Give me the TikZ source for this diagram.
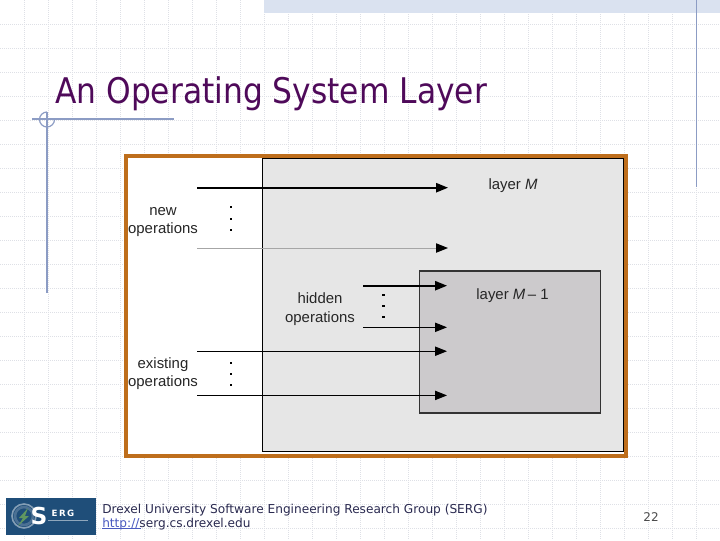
\documentclass[tikz,border=0pt]{standalone}
\usepackage{fontspec}
\usetikzlibrary{arrows.meta}
\setmainfont{DejaVu Sans}
\newfontfamily\labelfont{Liberation Sans}
\newfontfamily\titlefont[FakeStretch=0.886]{DejaVu Sans}
\newfontfamily\footfont[FakeStretch=0.99]{DejaVu Sans}
\definecolor{titlec}{HTML}{4F0A5A}
\definecolor{framec}{HTML}{BE6E1C}
\definecolor{outerc}{HTML}{E6E6E6}
\definecolor{innerc}{HTML}{CCCACC}
\definecolor{rulec}{HTML}{8C9CC4}
\definecolor{gridc}{HTML}{DEE0E6}
\definecolor{stripc}{HTML}{DAE2F0}
\definecolor{logoc}{HTML}{1F4E79}
\definecolor{footc}{HTML}{2A2A50}
\definecolor{linkc}{HTML}{4A5AC0}
\tikzset{
  x=0.75pt,y=-0.75pt,
  gridline/.style={gridc,line width=0.5pt,densely dotted},
  rulel/.style={rulec,line width=0.9pt},
  lab/.style={font=\labelfont\fontsize{11.2}{14}\selectfont,align=center,text=black!85,inner sep=0pt},
  boxn/.style={anchor=north west,inner sep=0pt,outer sep=0pt},
  headt/.style={-{Triangle[length=9pt,width=7pt,black]}},
  op/.style={line width=0.75pt,headt},
  opthick/.style={line width=1.2pt,headt},
  dotmark/.style={rectangle,fill=black,inner sep=0pt,minimum size=2pt},
  foot/.style={font=\footfont\fontsize{9.2}{10.5}\selectfont,text=footc,anchor=west,inner sep=0pt},
}
\begin{document}
\begin{tikzpicture}
\useasboundingbox (0,0) rectangle (720,540);
\fill[white] (0,0) rectangle (720,540);
\foreach \g in {24,48,...,696} \draw[gridline] (\g,0) -- (\g,540);
\foreach \g in {24,48,...,528} \draw[gridline] (0,\g) -- (720,\g);
\fill[stripc] (264,0) rectangle (720,13);
\draw[rulel] (696.5,0) -- (696.5,187);
\draw[rulel] (47,112) -- (47,293);
\draw[rulel] (32,119) -- (174,119);
\draw[rulel] (47,112) arc[start angle=-90,end angle=-360,radius=7.5];
\node[anchor=base west,inner sep=0pt,text=titlec,font=\titlefont\fontsize{26.5}{30}\selectfont] (title) at (55,103) {An Operating System Layer};
% diagram
\node[boxn,draw=framec,fill=white,line width=3pt,minimum width=375.3pt,minimum height=225.4pt] (frame) at (126,155.5) {};
\node[boxn,draw=black,fill=outerc,line width=0.75pt,minimum width=270.3pt,minimum height=219.6pt] (outer) at (262.6,158.3) {};
\node[boxn,draw=black!80,fill=innerc,line width=0.9pt,minimum width=136pt,minimum height=106.5pt] (inner) at (419.3,271) {};
\node[lab] (layerm) at (513,186) {layer \textit{M}};
\node[lab] (layerm1) at (512.5,296) {layer \textit{M}\,– 1};
\node[lab] (newop) at (163,222) {new\\operations};
\node[lab] (hidden) at (320,309) {hidden\\operations};
\node[lab] (exist) at (163,373.5) {existing\\operations};
\coordinate (a1) at (197,187.7); \coordinate (b1) at (448,187.7);
\coordinate (a2) at (197,248); \coordinate (b2) at (448,248);
\coordinate (a3) at (363,285.7); \coordinate (b3) at (447,285.7);
\coordinate (a4) at (363,327.3); \coordinate (b4) at (447,327.3);
\coordinate (a5) at (197,351.2); \coordinate (b5) at (447,351.2);
\coordinate (a6) at (197,395.4); \coordinate (b6) at (447,395.4);
\draw[opthick] (a1) -- (b1);
\draw[op,draw=black!35] (a2) -- (b2);
\draw[opthick] (a3) -- (b3);
\draw[op] (a4) -- (b4);
\draw[op] (a5) -- (b5);
\draw[op] (a6) -- (b6);
\foreach \n/\px/\py in {a/231/207,b/231/219,c/231/230,d/231/363,e/231/374,f/231/385,g/383.5/295,h/383.5/306,i/383.5/317}
  \node[dotmark] (dot\n) at (\px,\py) {};
% footer
\fill[logoc] (6,498) rectangle (96,535);
\draw[white!45!logoc,line width=1.2pt] (24,516) circle[radius=12];
\draw[white!20!logoc,line width=2pt] (24,516) circle[radius=9];
\fill[black!15!green!25!gray] (28,508) -- (19,518) -- (23,518) -- (18,526) -- (29,516) -- (25,516) -- cycle;
\draw[white!50!logoc,line width=1pt] (48,520.7) -- (88,520.7);
\node[text=white,font=\bfseries\fontsize{17.5}{18}\selectfont,inner sep=0pt] (logos) at (39,516) {S};
\node[text=white,font=\bfseries\fontsize{6.5}{8}\selectfont,inner sep=0pt] (logoe) at (63,513) {E\,R\,G};
\node[foot] (f1) at (102,510.5) {Drexel University Software Engineering Research Group (SERG)};
\node[foot] (f2) at (102,524.5) {\textcolor{linkc}{http://}serg.cs.drexel.edu};
\draw[linkc,line width=0.6pt] (102,528.5) -- (141,528.5);
\node[font=\fontsize{9}{11}\selectfont,text=black!70,inner sep=0pt] (pg) at (651,517) {22};
\end{tikzpicture}
\end{document}
